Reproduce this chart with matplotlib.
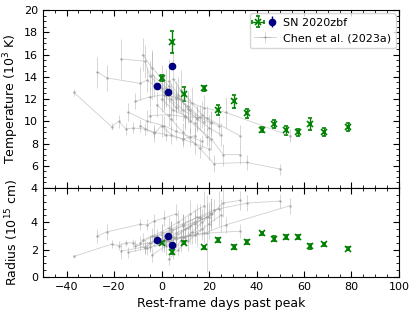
import matplotlib
matplotlib.use("Agg")
import matplotlib.pyplot as plt
from matplotlib.legend_handler import HandlerTuple
import numpy as np

# SN 2020zbf, blackbody fits (green: x markers, blue: circles)
zbf_x = [0, 4.6, 9.6, 18.0, 23.9, 30.7, 35.9, 42.5, 47.5, 52.6, 57.6, 62.7, 68.6, 78.7]
zbf_T = [13.9, 17.1, 12.45, 12.95, 11.0, 11.8, 10.7, 9.25, 9.75, 9.2, 9.0, 9.75, 9.05, 9.45]
zbf_Terr = [0.25, 1.0, 0.6, 0.25, 0.45, 0.6, 0.4, 0.25, 0.4, 0.4, 0.3, 0.55, 0.35, 0.35]
zbf_R = [2.52, 1.82, 2.52, 2.18, 2.71, 2.2, 2.55, 3.2, 2.81, 2.89, 2.89, 2.23, 2.38, 2.06]
zbf_Rerr = [0.12, 0.12, 0.12, 0.12, 0.15, 0.15, 0.12, 0.12, 0.15, 0.15, 0.15, 0.15, 0.12, 0.1]

blue_x = [-2.1, 2.9, 4.6]
blue_T = [13.15, 12.6, 14.95]
blue_R = [2.69, 2.98, 2.33]

# Chen et al. (2023a) comparison sample
chen_x = [
    [-37, -21, -18, -15, -12, -7, -3, 2, 9, 14],
    [-27, -23, -9, -6, -3, 1, 6],
    [-17, -7, -5, 0, 4, 9, 15],
    [-8, -4, 0, 3, 7, 12, 18],
    [-11, -5, 2, 8, 18, 27, 54],
    [-9, -3, 0, 4, 9, 14, 20],
    [-5, 3, 10, 19, 33],
    [-2, 4, 9, 16, 22, 36, 50],
    [1, 6, 12, 21, 26, 33],
    [3, 7, 11, 15, 20, 25],
    [-14, -6, 1, 6, 12, 17],
    [5, 8, 13, 17, 21, 24],
    [-4, 2, 6, 11, 16, 21],
    [0, 5, 10, 14, 19],
]
chen_T = [
    [12.6, 9.5, 10.0, 9.3, 9.4, 9.3, 9.0, 8.8, 8.4, 8.7],
    [14.4, 13.9, 13.4, 13.7, 13.2, 12.6, 12.0],
    [15.6, 15.4, 14.1, 13.0, 12.0, 11.0, 10.3],
    [16.0, 14.8, 13.9, 13.2, 12.1, 11.0, 9.9],
    [11.8, 12.2, 12.4, 12.0, 11.2, 10.8, 8.7],
    [9.6, 8.9, 9.6, 8.8, 8.4, 8.0, 7.5],
    [10.5, 10.6, 10.4, 10.3, 8.7],
    [11.5, 10.2, 9.0, 7.6, 6.2, 6.3, 5.7],
    [12.4, 11.3, 10.0, 8.4, 7.0, 7.0],
    [13.6, 12.4, 11.1, 10.2, 9.4, 8.8],
    [10.8, 10.0, 9.6, 9.1, 8.6, 8.2],
    [13.8, 12.8, 11.6, 10.6, 9.9, 9.6],
    [14.2, 13.0, 12.2, 11.4, 10.4, 9.8],
    [12.0, 11.0, 10.5, 9.8, 8.6],
]
chen_Terr = [
    [0.3, 0.3, 0.6, 0.5, 0.5, 0.5, 0.5, 0.6, 0.5, 0.8],
    [1.4, 1.2, 1.5, 1.1, 1.0, 1.5, 1.2],
    [1.8, 1.5, 1.3, 1.2, 1.4, 1.0, 1.2],
    [1.5, 1.4, 1.2, 1.6, 1.0, 1.1, 0.9],
    [0.7, 0.9, 1.0, 1.2, 1.2, 1.4, 0.6],
    [0.6, 0.8, 1.0, 0.8, 0.7, 0.9, 1.0],
    [0.7, 1.0, 1.2, 1.1, 1.0],
    [1.1, 1.0, 0.8, 0.9, 0.8, 0.7, 0.5],
    [1.5, 1.2, 1.1, 1.0, 1.0, 0.8],
    [2.0, 1.6, 1.3, 1.1, 1.2, 1.0],
    [0.8, 1.0, 0.9, 0.8, 0.8, 0.6],
    [2.5, 1.8, 1.5, 1.2, 1.0, 0.9],
    [2.2, 1.7, 1.4, 1.3, 1.1, 1.0],
    [1.2, 1.0, 1.1, 0.9, 0.8],
]
chen_R = [
    [1.5, 2.4, 2.3, 2.5, 2.5, 2.1, 2.6, 2.7, 2.9, 3.1],
    [3.0, 3.3, 3.85, 3.8, 4.1, 4.3, 4.6],
    [1.9, 2.2, 2.5, 2.8, 3.3, 3.8, 4.4],
    [2.7, 3.0, 3.3, 3.6, 4.0, 4.6, 5.2],
    [2.3, 2.5, 2.7, 2.9, 3.2, 3.8, 5.2],
    [2.5, 3.0, 3.1, 3.4, 3.7, 4.0, 4.4],
    [2.2, 2.6, 2.9, 3.2, 3.35],
    [3.0, 3.5, 3.9, 4.4, 4.9, 5.4, 5.55],
    [2.6, 3.2, 3.7, 4.6, 5.4, 5.6],
    [1.3, 2.0, 2.6, 3.2, 3.9, 4.5],
    [1.8, 2.1, 2.4, 2.8, 3.1, 3.5],
    [2.0, 2.6, 3.3, 4.0, 4.6, 5.0],
    [1.6, 2.3, 2.9, 3.6, 4.3, 4.7],
    [2.4, 2.9, 3.5, 3.9, 4.4],
]
chen_Rerr = [
    [0.1, 0.3, 0.3, 0.2, 0.3, 0.4, 0.3, 0.4, 0.5, 0.6],
    [0.5, 0.6, 0.4, 0.4, 0.5, 0.6, 0.7],
    [0.6, 0.5, 0.6, 0.5, 0.7, 0.8, 0.9],
    [0.5, 0.6, 0.6, 0.8, 0.9, 1.0, 1.1],
    [0.4, 0.5, 0.5, 0.6, 0.7, 0.6, 0.6],
    [0.5, 0.6, 0.8, 0.7, 0.9, 1.0, 1.1],
    [0.4, 0.5, 0.6, 2.8, 0.5],
    [0.5, 0.6, 0.6, 0.7, 0.8, 0.6, 0.5],
    [0.6, 0.7, 0.7, 0.9, 1.0, 0.7],
    [0.4, 0.5, 0.7, 0.9, 1.1, 1.2],
    [0.4, 0.5, 0.6, 0.6, 0.7, 0.8],
    [0.7, 0.8, 0.9, 1.0, 1.2, 1.3],
    [0.5, 0.7, 0.8, 0.9, 1.0, 1.1],
    [0.6, 0.7, 0.8, 0.9, 1.0],
]

fig, (ax1, ax2) = plt.subplots(2, 1, figsize=(4.16, 3.13), dpi=100, sharex=True,
                               gridspec_kw={"height_ratios": [2, 1], "hspace": 0})
fig.subplots_adjust(left=0.103, right=0.959, top=0.968, bottom=0.115)

gray_kw = dict(color="#a0a0a0", alpha=0.5, lw=0.6, marker=".", ms=2,
               elinewidth=0.6, capsize=0)
for i in range(len(chen_x)):
    ax1.errorbar(chen_x[i], chen_T[i], yerr=chen_Terr[i], xerr=0.5, **gray_kw)
    ax2.errorbar(chen_x[i], chen_R[i], yerr=chen_Rerr[i], xerr=0.5, **gray_kw)

green_kw = dict(fmt="x", color="green", ms=4, mew=1.2, capsize=1.2,
                elinewidth=1, capthick=1)
h_g = ax1.errorbar(zbf_x, zbf_T, yerr=zbf_Terr, xerr=0.3, **green_kw)
ax2.errorbar(zbf_x, zbf_R, yerr=zbf_Rerr, xerr=0.3, **green_kw)
blue_kw = dict(fmt="o", color="navy", ms=4.5, elinewidth=1)
h_b = ax1.errorbar(blue_x, blue_T, yerr=0.1, **blue_kw)
ax2.errorbar(blue_x, blue_R, yerr=0.05, **blue_kw)

h_c = ax1.errorbar([], [], yerr=[], xerr=[], **gray_kw)

ax1.legend([(h_g, h_b), h_c], ["SN 2020zbf", "Chen et al. (2023a)"],
           handler_map={tuple: HandlerTuple(ndivide=None, pad=0.6)},
           loc="upper right", fontsize=8, framealpha=0.8, borderaxespad=0.3,
           handlelength=2.0, handletextpad=0.6)

ax1.set_xlim(-50, 100)
ax1.set_ylim(4, 20)
ax2.set_ylim(0, 6.5)
ax1.set_yticks(np.arange(4, 21, 2))
ax2.set_yticks([0, 2, 4])
ax2.set_xticks(np.arange(-40, 101, 20))

for ax in (ax1, ax2):
    ax.minorticks_on()
    ax.tick_params(which="both", direction="in", top=True, right=True, labelsize=8)
    ax.tick_params(which="major", length=4)
    ax.tick_params(which="minor", length=2)
ax1.yaxis.set_minor_locator(matplotlib.ticker.MultipleLocator(0.5))
ax2.yaxis.set_minor_locator(matplotlib.ticker.MultipleLocator(0.5))
ax2.xaxis.set_minor_locator(matplotlib.ticker.MultipleLocator(5))

ax1.set_ylabel("Temperature ($10^3$ K)", fontsize=9)
ax2.set_ylabel("Radius ($10^{15}$ cm)", fontsize=9)
ax1.yaxis.set_label_coords(-0.06, 0.5)
ax2.yaxis.set_label_coords(-0.06, 0.5)
ax2.set_xlabel("Rest-frame days past peak", fontsize=9)

fig.savefig("out.png", dpi=100)
